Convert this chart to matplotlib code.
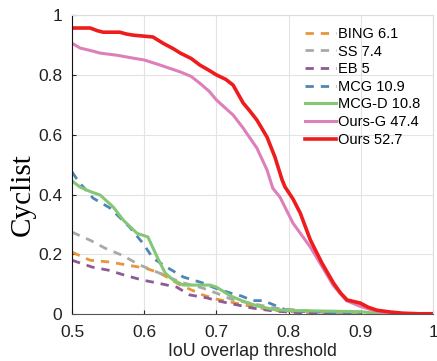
import matplotlib
matplotlib.use("Agg")
import matplotlib.pyplot as plt

# recall curves, one x/y pair per method
bing_x = [0.5, 0.525, 0.553, 0.576, 0.601, 0.622, 0.65, 0.681, 0.70, 0.72, 0.75, 0.78, 0.82, 0.86, 0.9]
bing_y = [0.207, 0.18, 0.174, 0.164, 0.154, 0.137, 0.097, 0.064, 0.05, 0.04, 0.025, 0.012, 0.005, 0.002, 0.0]

ss_x = [0.5, 0.525, 0.546, 0.569, 0.594, 0.618, 0.65, 0.681, 0.70, 0.72, 0.75, 0.78, 0.82, 0.86, 0.9]
ss_y = [0.274, 0.247, 0.22, 0.197, 0.164, 0.14, 0.107, 0.087, 0.07, 0.05, 0.035, 0.02, 0.012, 0.006, 0.0]

eb_x = [0.5, 0.528, 0.55, 0.573, 0.597, 0.618, 0.645, 0.663, 0.687, 0.70, 0.72, 0.75, 0.78, 0.82, 0.86]
eb_y = [0.18, 0.157, 0.147, 0.13, 0.114, 0.104, 0.09, 0.064, 0.054, 0.045, 0.035, 0.02, 0.01, 0.004, 0.0]

mcg_x = [0.5, 0.51, 0.529, 0.553, 0.58, 0.598, 0.612, 0.631, 0.654, 0.681, 0.70, 0.72, 0.735,
         0.75, 0.765, 0.78, 0.80, 0.85, 0.88, 0.9]
mcg_y = [0.475, 0.44, 0.388, 0.354, 0.29, 0.237, 0.187, 0.157, 0.124, 0.104, 0.085, 0.07, 0.06,
         0.045, 0.045, 0.03, 0.01, 0.006, 0.003, 0.0]

mcgd_x = [0.5, 0.511, 0.525, 0.539, 0.557, 0.571, 0.59, 0.605, 0.618, 0.629, 0.64, 0.654, 0.691,
          0.70, 0.72, 0.74, 0.76, 0.78, 0.80, 0.85, 0.90, 0.93]
mcgd_y = [0.445, 0.425, 0.41, 0.398, 0.358, 0.314, 0.27, 0.258, 0.19, 0.137, 0.114, 0.097, 0.097,
          0.09, 0.06, 0.04, 0.025, 0.015, 0.012, 0.01, 0.008, 0.0]

oursg_x = [0.5, 0.511, 0.525, 0.539, 0.562, 0.585, 0.6, 0.622, 0.65, 0.665, 0.677, 0.69, 0.70,
           0.723, 0.737, 0.756, 0.77, 0.778, 0.788, 0.806, 0.83, 0.846, 0.862, 0.88, 0.9, 0.92, 0.94, 0.96]
oursg_y = [0.906, 0.89, 0.882, 0.873, 0.866, 0.856, 0.85, 0.833, 0.81, 0.795, 0.772, 0.745, 0.716,
           0.666, 0.622, 0.555, 0.482, 0.421, 0.391, 0.304, 0.224, 0.16, 0.095, 0.045, 0.025, 0.01, 0.003, 0.0]

ours_x = [0.5, 0.525, 0.535, 0.543, 0.566, 0.575, 0.585, 0.612, 0.62, 0.626, 0.64, 0.65, 0.665,
          0.677, 0.69, 0.70, 0.713, 0.723, 0.737, 0.746, 0.756, 0.77, 0.781, 0.791, 0.795, 0.806,
          0.816, 0.83, 0.846, 0.862, 0.872, 0.881, 0.899, 0.91, 0.922, 0.94, 0.958, 0.98, 1.0]
ours_y = [0.957, 0.957, 0.948, 0.943, 0.943, 0.937, 0.933, 0.927, 0.915, 0.906, 0.888, 0.873, 0.855,
          0.833, 0.815, 0.80, 0.785, 0.766, 0.706, 0.68, 0.649, 0.592, 0.525, 0.448, 0.425, 0.385,
          0.338, 0.248, 0.171, 0.104, 0.07, 0.047, 0.037, 0.023, 0.013, 0.007, 0.003, 0.001, 0.001]

labels = ["BING 6.1", "SS 7.4", "EB 5", "MCG 10.9", "MCG-D 10.8", "Ours-G 47.4", "Ours 52.7"]
colors = ["#e8963a", "#a9a9a9", "#8c5a96", "#4f86b5", "#86c775", "#dd7fbb", "#ee1c1c"]
xticks = [0.5, 0.6, 0.7, 0.8, 0.9, 1.0]
xtick_labels = ["0.5", "0.6", "0.7", "0.8", "0.9", "1"]
yticks = [0, 0.2, 0.4, 0.6, 0.8, 1.0]
ytick_labels = ["0", "0.2", "0.4", "0.6", "0.8", "1"]

plt.rcParams["font.family"] = "Liberation Sans"

fig = plt.figure(figsize=(4.37, 3.61), dpi=100)
ax = fig.add_axes([0.165, 0.130, 0.826, 0.828])

dash = (3, 2.5)
ax.plot(bing_x, bing_y, color=colors[0], lw=2, dashes=dash, label=labels[0])
ax.plot(ss_x, ss_y, color=colors[1], lw=2, dashes=dash, label=labels[1])
ax.plot(eb_x, eb_y, color=colors[2], lw=2, dashes=dash, label=labels[2])
ax.plot(mcg_x, mcg_y, color=colors[3], lw=2, dashes=dash, label=labels[3])
ax.plot(mcgd_x, mcgd_y, color=colors[4], lw=2.2, label=labels[4])
ax.plot(oursg_x, oursg_y, color=colors[5], lw=2.2, label=labels[5])
ax.plot(ours_x, ours_y, color=colors[6], lw=2.6, label=labels[6])

ax.set_xlim(0.5, 1.0)
ax.set_ylim(0, 1.0)
ax.set_xticks(xticks)
ax.set_xticklabels(xtick_labels)
ax.set_yticks(yticks)
ax.set_yticklabels(ytick_labels)
ax.tick_params(direction="in", length=3, labelsize=12.5, colors="#222222")
ax.tick_params(axis="x", pad=8)
ax.tick_params(axis="y", pad=7)
ax.grid(True, color="#e3e3e3", lw=0.8)
ax.set_axisbelow(True)

ax.spines["left"].set_color("#111111")
ax.spines["bottom"].set_color("#555555")
ax.spines["top"].set_color("#dddddd")
ax.spines["right"].set_color("#dddddd")

ax.set_xlabel("IoU overlap threshold", fontsize=12.8, labelpad=2, color="#222222")
ax.set_ylabel("Cyclist", fontsize=21, family="Liberation Serif")
ax.yaxis.set_label_coords(-0.10, 0.40)

ax.legend(loc="upper right", bbox_to_anchor=(0.99, 0.99), frameon=False, fontsize=10.5,
          handlelength=2.1, handletextpad=0.2, labelspacing=0.25, borderaxespad=0.2)

fig.savefig("out.png", dpi=100)
